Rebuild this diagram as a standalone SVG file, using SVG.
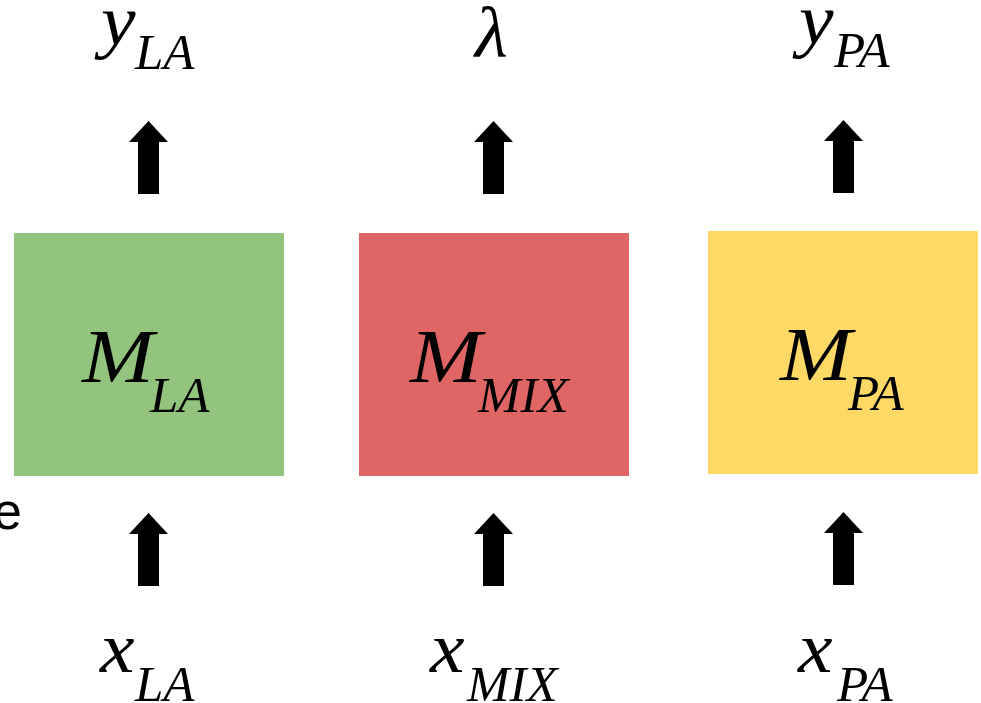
<svg xmlns="http://www.w3.org/2000/svg" xmlns:xlink="http://www.w3.org/1999/xlink" width="981" height="703" viewBox="0 0 981 703">
<style>
.m{font-family:"Liberation Serif","Times New Roman",serif;font-style:italic;font-size:77px;fill:#000}
.v{font-family:"Liberation Serif","Times New Roman",serif;font-style:italic;font-size:72px;fill:#000}
.s{font-family:"Liberation Serif","Times New Roman",serif;font-style:italic;font-size:51px;fill:#000}
.e{font-family:"Liberation Sans",Arial,sans-serif;font-size:52px;fill:#000}
.arr{fill:#000}
</style>
<defs>
<path id="ar" d="M0,0 L19.5,21 L10.5,21 L10.5,73 L-10.5,73 L-10.5,21 L-19.5,21 Z"/>
</defs>
<rect width="981" height="703" fill="#fff"/>
<text class="e" x="-7" y="529">e</text>
<g id="connectors" class="arr">
<use xlink:href="#ar" x="148.5" y="121"/>
<use xlink:href="#ar" x="493.5" y="121"/>
<use xlink:href="#ar" x="843.5" y="120"/>
<use xlink:href="#ar" x="148.5" y="513"/>
<use xlink:href="#ar" x="493.5" y="513"/>
<use xlink:href="#ar" x="843.5" y="512"/>
</g>
<g id="node-MLA">
<rect x="14" y="233" width="270" height="243" fill="#93C47D"/>
<text class="m" transform="translate(82,382) scale(1.12,1)">M</text><text class="s" x="150" y="412">LA</text>
</g>
<g id="node-MMIX">
<rect x="359" y="233" width="270" height="243" fill="#E06666"/>
<text class="m" transform="translate(410,382) scale(1.12,1)">M</text><text class="s" x="478" y="412">MIX</text>
</g>
<g id="node-MPA">
<rect x="708" y="231" width="270" height="243" fill="#FFD966"/>
<text class="m" transform="translate(780,380) scale(1.12,1)">M</text><text class="s" x="848" y="410">PA</text>
</g>
<g id="out-yLA"><text class="v" transform="translate(101,45) scale(1.08,1)">y</text><text class="s" x="135" y="69">LA</text></g>
<g id="out-lambda"><text class="v" transform="translate(475,57) scale(1.05,1)">λ</text></g>
<g id="out-yPA"><text class="v" transform="translate(799,44) scale(1.08,1)">y</text><text class="s" x="834" y="67">PA</text></g>
<g id="in-xLA"><text class="v" transform="translate(100,672) scale(1.08,1)">x</text><text class="s" x="135" y="701">LA</text></g>
<g id="in-xMIX"><text class="v" transform="translate(430,672) scale(1.08,1)">x</text><text class="s" x="467" y="701">MIX</text></g>
<g id="in-xPA"><text class="v" transform="translate(798,672) scale(1.08,1)">x</text><text class="s" x="837" y="701">PA</text></g>
</svg>
